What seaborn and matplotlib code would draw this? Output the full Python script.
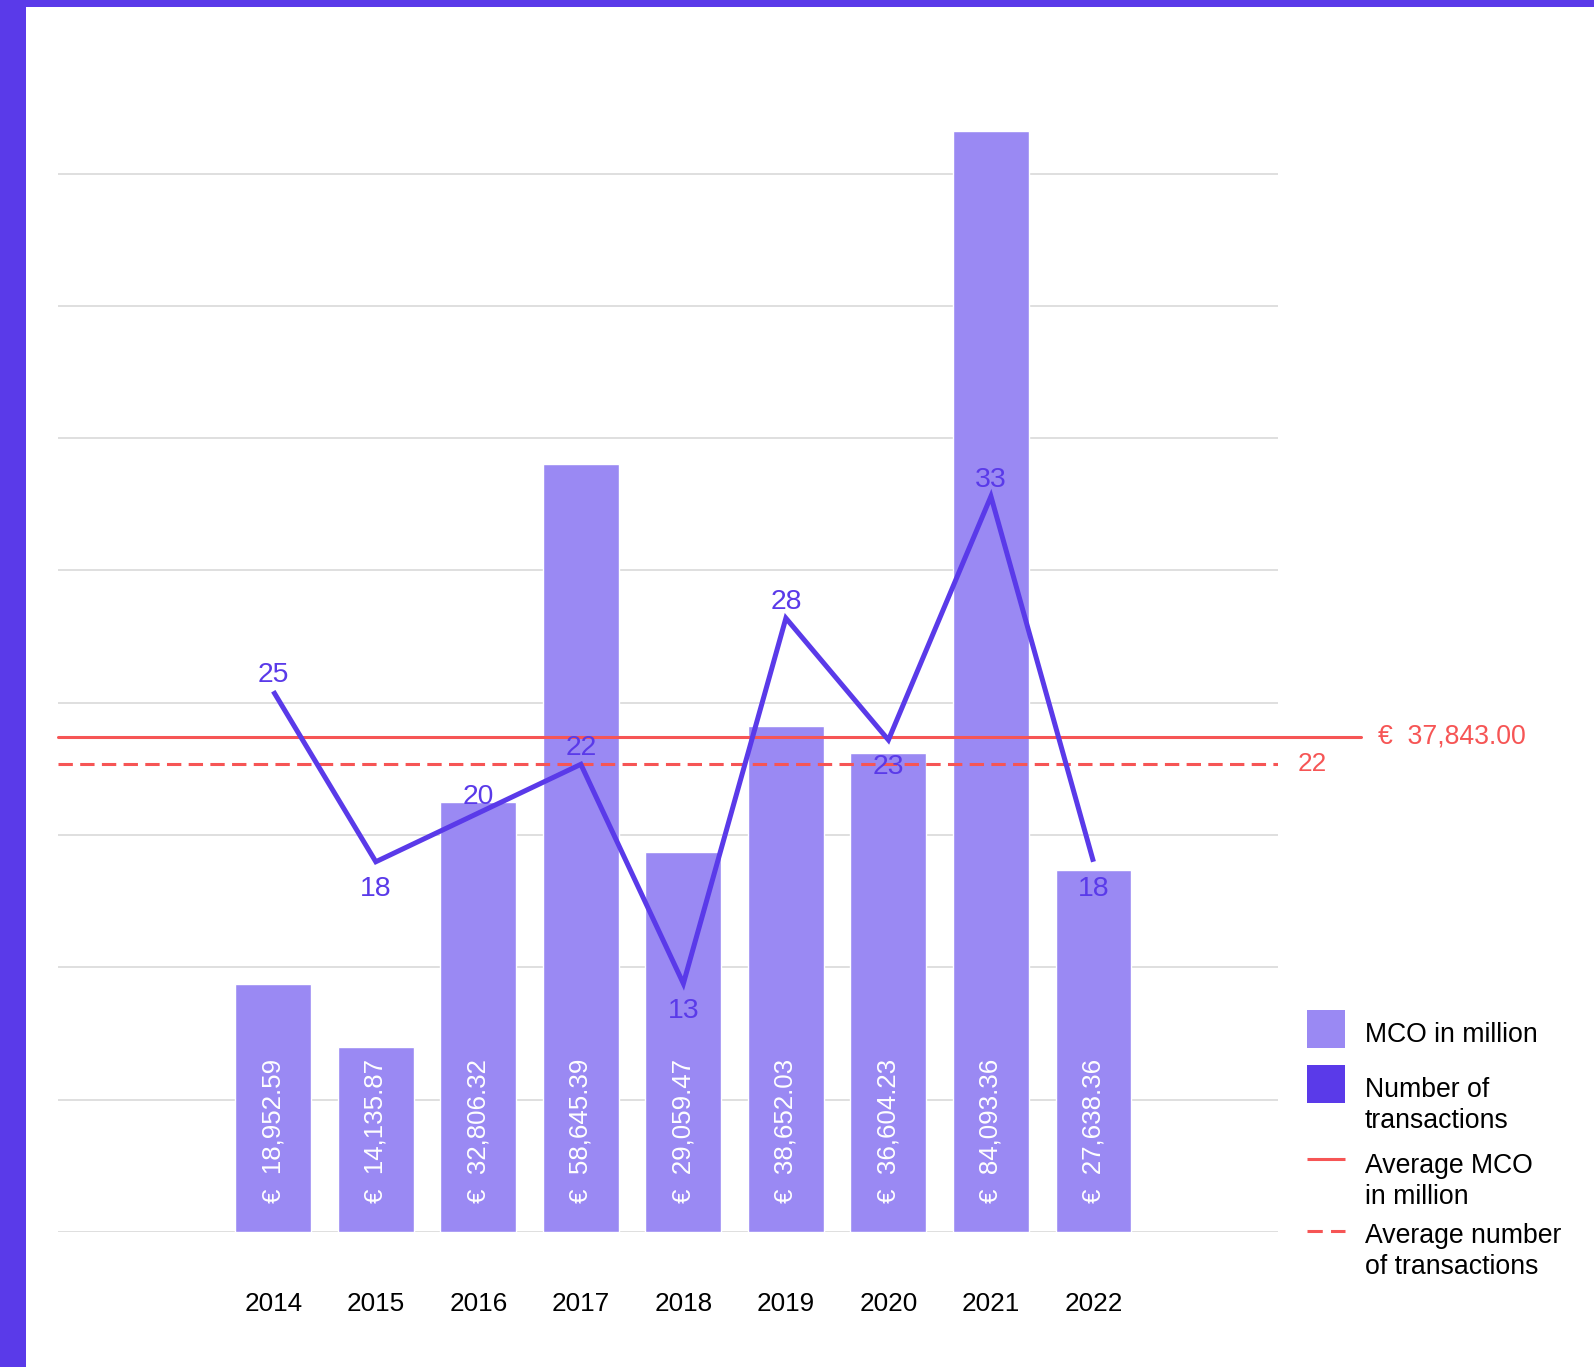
import numpy as np
import pandas as pd
import matplotlib
matplotlib.use("Agg")
import matplotlib.pyplot as plt
from matplotlib.patches import Rectangle
from matplotlib.lines import Line2D
import matplotlib.transforms as mtransforms
import seaborn as sns

# ---- data -------------------------------------------------------------
years = ["2014", "2015", "2016", "2017", "2018", "2019", "2020", "2021", "2022"]
mco_million = [18952.59, 14135.87, 32806.32, 58645.39, 29059.47,
               38652.03, 36604.23, 84093.36, 27638.36]
transactions = [25, 18, 20, 22, 13, 28, 23, 33, 18]
avg_mco = 37843.00
avg_transactions = 22
label_side = ["above", "below", "above", "above", "below",
              "above", "below", "above", "below"]

legend_labels = [["MCO in million"],
                 ["Number of", "transactions"],
                 ["Average MCO", "in million"],
                 ["Average number", "of transactions"]]

# ---- style ------------------------------------------------------------
PURPLE = "#5a3ae9"
BAR = "#9a89f3"
RED = "#f65555"
GRID = "#d6d6d6"

sns.set_theme(style="white")
plt.rcParams["font.family"] = ["Liberation Sans", "DejaVu Sans"]

W, H, DPI = 1594, 1367, 100
fig = plt.figure(figsize=(W / DPI, H / DPI), dpi=DPI, facecolor="white")


def px_box(x0, y0, x1, y1):
    """Figure-fraction rectangle from pixel coordinates (origin top-left)."""
    return [x0 / W, 1 - y1 / H, (x1 - x0) / W, (y1 - y0) / H]


ax = fig.add_axes(px_box(58, 131, 1278, 1232))
df = pd.DataFrame({"year": years, "mco": mco_million, "deals": transactions})

# bars: MCO in million
sns.barplot(data=df, x="year", y="mco", color=BAR, saturation=1,
            width=0.74, ax=ax, zorder=2)
ax.set_xlim(-2.1, 9.8)
ax.set_ylim(0, max(mco_million))

# horizontal guide lines
grid_step = 10105
ax.set_yticks(np.arange(0, 9) * grid_step)
ax.yaxis.grid(True, color=GRID, linewidth=1.1, zorder=0)
ax.set_axisbelow(True)
ax.set_xlabel("")
ax.set_ylabel("")
for s in ax.spines.values():
    s.set_visible(False)

# value labels inside the bars
for i, v in enumerate(mco_million):
    ax.annotate(f"€  {v:,.2f}", xy=(i, 0), xytext=(0, 21),
                textcoords="offset points", rotation=90,
                ha="center", va="bottom", color="white", fontsize=18.6,
                zorder=5)

# average MCO line, running past the plot area
ax.axhline(avg_mco, xmin=0, xmax=1.068, color=RED, linewidth=2.2,
           clip_on=False, zorder=3)
trans_mco = mtransforms.blended_transform_factory(ax.transAxes, ax.transData)
ax.text(1.082, avg_mco, f"€  {avg_mco:,.2f}", transform=trans_mco,
        ha="left", va="center", color=RED, fontsize=19.2)

# secondary axis: number of transactions
ax2 = ax.twinx()
ax2.set_ylim(2.8, 48.0)
ax2.axhline(avg_transactions, xmin=0, xmax=1.0, color=RED, linewidth=2.2,
            linestyle=(0, (4.7, 2.4)), zorder=3)
trans_tx = mtransforms.blended_transform_factory(ax2.transAxes, ax2.transData)
ax2.text(1.0164, avg_transactions, f"{avg_transactions}", transform=trans_tx,
         ha="left", va="center", color=RED, fontsize=18.8)

sns.lineplot(x=np.arange(len(years)), y=transactions, ax=ax2, color=PURPLE,
             linewidth=3.6, zorder=4)
for ln in ax2.get_lines():
    if ln.get_linestyle() == "-":
        ln.set_solid_joinstyle("miter")
        ln.set_solid_capstyle("butt")

for i, (v, side) in enumerate(zip(transactions, label_side)):
    dy = 6.5 if side == "above" else -24.5
    ax2.annotate(f"{v}", xy=(i, v), xytext=(0, dy), textcoords="offset points",
                 ha="center", va="baseline", color=PURPLE, fontsize=20.4,
                 zorder=6)

ax2.set_ylabel("")
for s in ax2.spines.values():
    s.set_visible(False)
ax2.grid(False)

# twinx re-enables ticks on the host axis, so clear them afterwards
ax.tick_params(axis="y", left=False, right=False, labelleft=False,
               labelright=False, length=0)
ax2.tick_params(axis="y", left=False, right=False, labelleft=False,
                labelright=False, length=0)
ax.tick_params(axis="x", length=0, pad=43, labelsize=18.8, labelcolor="black")

# legend, drawn in figure space
def fig_xy(x, y):
    return x / W, 1 - y / H

fig.add_artist(Rectangle(fig_xy(1307, 1048), 38 / W, 38 / H,
                         transform=fig.transFigure, color=BAR, lw=0))
fig.add_artist(Rectangle(fig_xy(1307, 1103), 38 / W, 38 / H,
                         transform=fig.transFigure, color=PURPLE, lw=0))
fig.add_artist(Line2D([1307 / W, 1345 / W], [1 - 1159 / H] * 2,
                      transform=fig.transFigure, color=RED, linewidth=2.2,
                      solid_capstyle="butt"))
fig.add_artist(Line2D([1307 / W, 1345 / W], [1 - 1231 / H] * 2,
                      transform=fig.transFigure, color=RED, linewidth=2.2,
                      linestyle=(0, (5.0, 2.7)), dash_capstyle="butt"))

legend_baselines = [1042, 1097, 1173, 1243]
for lines, y0 in zip(legend_labels, legend_baselines):
    for k, line in enumerate(lines):
        fig.text(1365 / W, 1 - (y0 + k * 31) / H, line, ha="left",
                 va="baseline", color="black", fontsize=19.2)

# frame accents
fig.add_artist(Rectangle((0, 0), 26 / W, 1, transform=fig.transFigure,
                         color=PURPLE, lw=0, zorder=10))
fig.add_artist(Rectangle((0, 1 - 7 / H), 1, 7 / H, transform=fig.transFigure,
                         color=PURPLE, lw=0, zorder=10))

fig.savefig("out.png", dpi=DPI, facecolor="white")
